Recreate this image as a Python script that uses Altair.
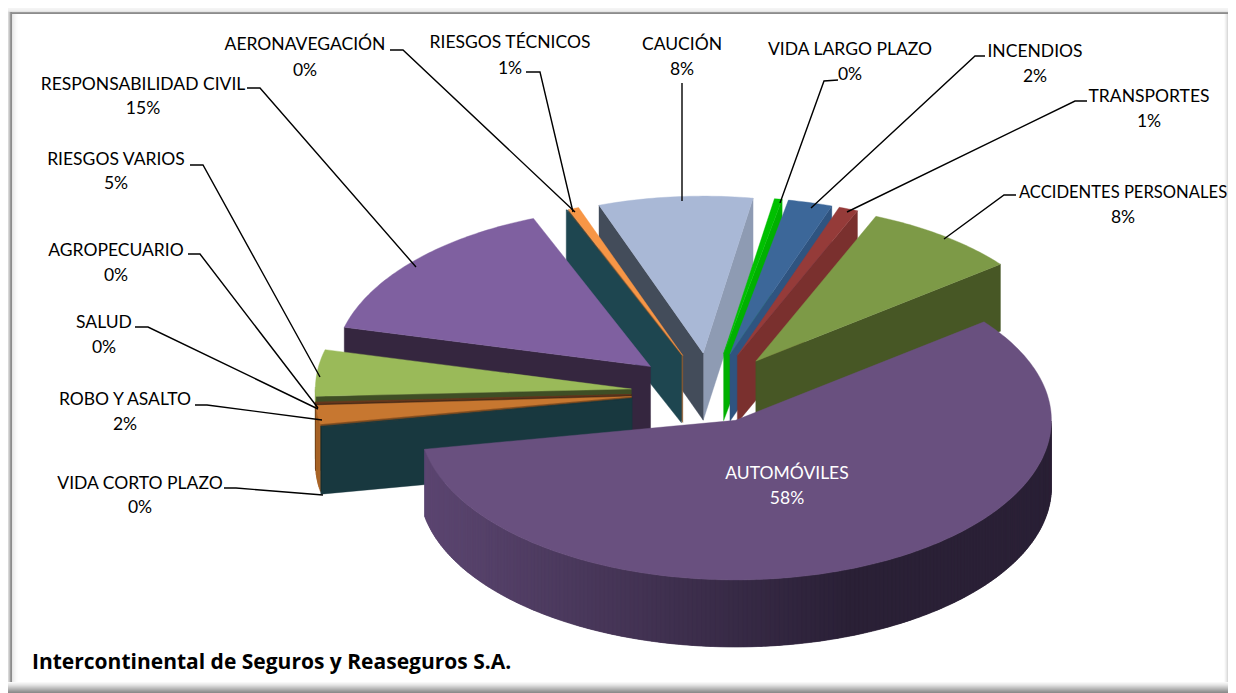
import math
import altair as alt
import pandas as pd

# ---- chart values (share of premiums, %), clockwise from the first slice
categories = ["VIDA LARGO PLAZO", "INCENDIOS", "TRANSPORTES", "ACCIDENTES PERSONALES",
              "AUTOMÓVILES", "VIDA CORTO PLAZO", "ROBO Y ASALTO", "SALUD", "AGROPECUARIO",
              "RIESGOS VARIOS", "RESPONSABILIDAD CIVIL", "AERONAVEGACIÓN",
              "RIESGOS TÉCNICOS", "CAUCIÓN"]
shares = [0.4, 2.3, 1.0, 8.1, 57.7, 0.1, 1.9, 0.05, 0.1, 4.7, 15.0, 0.05, 0.55, 8.0]
top_colors = ["#00C000", "#3C6799", "#953B39", "#7D9A47", "#69507F", "#18383F", "#C77730",
              "#6B3A1E", "#6B3A1E", "#9ABA59", "#7F60A0", "#1E4650", "#F79646", "#A9B8D6"]
start_wall = ["#00B000", "#2F5480", "#7A302E", "#475725", "#3F3050", "#18383F", "#7A4A20",
              "#4A2C18", "#4A2C18", "#3F4E25", "#35263F", "#1E4650", "#8A5A30", "#434C5A"]
end_wall = ["#00B000", "#2F5480", "#7A302E", "#475725", "#3F3050", "#18383F", "#7A4A20",
            "#4A2C18", "#4A2C18", "#3F4E25", "#35263F", "#1E4650", "#A06A38", "#8E9BB3"]
footer = "Intercontinental de Seguros y Reaseguros S.A."

# ---- layout of the drawing, page pixels
W, H = 1220, 685
CX, CY, R_FRONT, R_BACK, K, DEPTH, EXPLODE, START = 705.0, 393.0, 316.0, 311.0, 0.505, 67.0, 74.0, 9.4

label_pos = {  # centre x, name y, percent y
    "VIDA LARGO PLAZO": (850, 50, 75), "INCENDIOS": (1035, 52, 77), "TRANSPORTES": (1149, 97, 122),
    "ACCIDENTES PERSONALES": (1123, 193, 218), "AUTOMÓVILES": (787, 474, 499),
    "VIDA CORTO PLAZO": (140, 484, 508), "ROBO Y ASALTO": (125, 400, 425), "SALUD": (104, 323, 348),
    "AGROPECUARIO": (116, 251, 276), "RIESGOS VARIOS": (116, 160, 184),
    "RESPONSABILIDAD CIVIL": (143, 85, 109), "AERONAVEGACIÓN": (305, 45, 71),
    "RIESGOS TÉCNICOS": (510, 43, 69), "CAUCIÓN": (682, 45, 70)}
leaders = {
    "VIDA LARGO PLAZO": [(838, 80), (824, 81), (780, 203)],
    "INCENDIOS": [(985, 56), (975, 56), (811, 208)],
    "TRANSPORTES": [(1087, 101), (1075, 101), (847, 212)],
    "ACCIDENTES PERSONALES": [(1016, 195), (1004, 195), (944, 239)],
    "VIDA CORTO PLAZO": [(224, 488), (236, 488), (323, 495)],
    "ROBO Y ASALTO": [(195, 405), (207, 405), (322, 420)],
    "SALUD": [(135, 327), (148, 327), (318, 409)],
    "AGROPECUARIO": [(188, 254), (200, 254), (318, 408)],
    "RIESGOS VARIOS": [(190, 165), (203, 165), (320, 377)],
    "RESPONSABILIDAD CIVIL": [(247, 88), (260, 88), (416, 267)],
    "AERONAVEGACIÓN": [(390, 50), (403, 50), (575, 212)],
    "RIESGOS TÉCNICOS": [(526, 72), (540, 72), (573, 212)],
    "CAUCIÓN": [(682, 83), (682, 201)]}


def direction(deg):
    a = math.radians(deg)
    return math.sin(a), -K * math.cos(a)


def facing(deg):
    return -math.cos(math.radians(deg)) > 0


def feature(points, fill, order):
    ring = [list(p) for p in points] + [list(points[0])]
    return {"type": "Feature", "geometry": {"type": "Polygon", "coordinates": [ring]},
            "properties": {"fill": fill, "order": order}}


def mix(c1, c2, t):
    a = [int(c1[i:i + 2], 16) for i in (1, 3, 5)]
    b = [int(c2[i:i + 2], 16) for i in (1, 3, 5)]
    return "#%02x%02x%02x" % tuple(round(u + (v - u) * t) for u, v in zip(a, b))


def rim_color(x, base):
    if base != "#69507F":
        return mix(base, "#000000", 0.15)
    t = min(max((x - 423) / (850 - 423), 0), 1)
    return mix("#5C4671", "#2A2036", t)


slices = []
angle = START
for i, share in enumerate(shares):
    span = share * 3.6
    slices.append((i, angle, angle + span))
    angle += span

features = []
n = 0
for i, a0, a1 in sorted(slices, key=lambda s: math.cos(math.radians((s[1] + s[2]) / 2)), reverse=True):
    mid = (a0 + a1) / 2
    sx, cy = math.sin(math.radians(mid)), math.cos(math.radians(mid))
    ax = CX + EXPLODE * sx + 6 * max(0.0, math.cos(math.radians(mid - 30)))
    ay = CY - (40 if cy > 0 else 30) * cy
    radius = R_BACK if (mid % 360 < 60 or mid % 360 > 330) else R_FRONT
    steps = max(2, int((a1 - a0) * 1.2))
    arc = []
    for j in range(steps + 1):
        d = a0 + (a1 - a0) * j / steps
        dx, dy = direction(d)
        arc.append((ax + radius * dx, ay + radius * dy, d))
    parts = []
    if facing(a0 - 90):
        parts.append(((ax, ay), arc[0][:2], (arc[0][0], arc[0][1] + DEPTH), (ax, ay + DEPTH), start_wall[i], -math.cos(math.radians(a0 - 90))))
    if facing(a1 + 90):
        parts.append(((ax, ay), arc[-1][:2], (arc[-1][0], arc[-1][1] + DEPTH), (ax, ay + DEPTH), end_wall[i], -math.cos(math.radians(a1 + 90))))
    for p in sorted(parts, key=lambda q: q[5]):
        features.append(feature(p[:4], p[4], n))
        n += 1
    # outer rim, only where it faces the viewer; each piece runs under the next one to hide seams
    for j in range(steps):
        x0, y0, d0 = arc[j]
        x1, y1, d1 = arc[j + 1]
        if facing((d0 + d1) / 2):
            x2, y2, _ = arc[min(j + 2, steps)]
            col = rim_color((x0 + x1) / 2, top_colors[i])
            if x0 > x1:
                features.append(feature([(x0, y0), (x1, y1), (x2, y2), (x2, y2 + DEPTH), (x1, y1 + DEPTH), (x0, y0 + DEPTH)], col, n))
            else:
                features.append(feature([(x0, y0), (x1, y1), (x1, y1 + DEPTH), (x0, y0 + DEPTH)], col, n))
            n += 1
    features.append(feature([(ax, ay)] + [p[:2] for p in arc], top_colors[i], n))
    n += 1

x_scale = alt.Scale(domain=[8, 8 + W], range=[0, W], nice=False, zero=False)
y_scale = alt.Scale(domain=[8 + H, 8], range=[H, 0], nice=False, zero=False)
X = alt.X("x:Q", scale=x_scale, axis=None)
Y = alt.Y("y:Q", scale=y_scale, axis=None)

# frame bands: x, x2, y, y2, colour
R_EDGE = 8 + W
frame = [(8, R_EDGE, 8, 693, "#FFFFFF")]
for k, c in enumerate(["#F4F4F4", "#F2F2F2", "#EEEEEE", "#E4E4E4"]):
    frame.append((8, R_EDGE, 8 + k, 9 + k, c))
for k, c in enumerate(["#9A9A9A", "#8C8C8C"]):
    frame.append((8, R_EDGE, 12 + k, 13 + k, c))
for k, c in enumerate(["#D8D8D8", "#C4C4C4", "#9A9A9A", "#8C8C8C"]):
    frame.append((8 + k, 9 + k, 12, 693, c))
for k, c in enumerate(["#E6E6E6", "#EEEEEE", "#F3F3F3", "#F7F7F7", "#FBFBFB", "#FDFDFD"]):
    frame.append((12 + k, 13 + k, 14, 683, c))
for k, c in enumerate(["#FBFBFB", "#F2F2F2", "#E8E8E8", "#DADADA"]):
    frame.append((R_EDGE - 4 + k, R_EDGE - 3 + k, 14, 693, c))
for k, c in enumerate(["#F8F8F8", "#F0F0F0", "#E8E8E8", "#DEDEDE", "#D2D2D2", "#C6C6C6",
                       "#BABABA", "#AEAEAE", "#A2A2A2", "#969696", "#8C8C8C"]):
    frame.append((8, R_EDGE, 682 + k, 683 + k, c))
frame_df = pd.DataFrame(frame, columns=["x", "x2", "y", "y2", "c"])
frame_layer = alt.Chart(frame_df).mark_rect().encode(
    x=X, x2="x2:Q", y=Y, y2="y2:Q", color=alt.Color("c:N", scale=None))

pie_layer = alt.Chart(alt.InlineData(
    values={"type": "FeatureCollection", "features": features},
    format=alt.DataFormat(property="features", type="json"))
).mark_geoshape(strokeWidth=0.4).encode(
    color=alt.Color("properties.fill:N", scale=None),
    stroke=alt.Color("properties.fill:N", scale=None),
    order=alt.Order("properties.order:Q"),
).project(type="identity", scale=1, translate=[-8, -8])

leader_rows = []
for name, pts in leaders.items():
    for j, (px, py) in enumerate(pts):
        leader_rows.append({"name": name, "x": px, "y": py, "o": j})
leader_layer = alt.Chart(pd.DataFrame(leader_rows)).mark_line(color="#000000", strokeWidth=1.4).encode(
    x=X, y=Y, detail="name:N", order="o:Q")

text_rows = []
for name, share in zip(categories, shares):
    cx, y1, y2 = label_pos[name]
    col = "#FFFFFF" if name == "AUTOMÓVILES" else "#000000"
    fs = 16.6 if name == "ACCIDENTES PERSONALES" else 17.5
    text_rows.append({"x": cx, "y": y1, "t": name, "c": col, "fs": fs})
    text_rows.append({"x": cx, "y": y2, "t": f"{share:.0f}%" if share >= 0.5 else "0%", "c": col, "fs": 17.5})
text_layer = alt.Chart(pd.DataFrame(text_rows)).mark_text(
    font="Lato", align="center", baseline="middle").encode(
    x=X, y=Y, text="t:N", color=alt.Color("c:N", scale=None),
    size=alt.Size("fs:Q", scale=None))

foot_layer = alt.Chart(pd.DataFrame([{"x": 32, "y": 669, "t": footer}])).mark_text(
    font="Open Sans", fontSize=21, fontWeight="bold", align="left", baseline="alphabetic", color="#000000").encode(
    x=X, y=Y, text="t:N")

chart = alt.layer(
    frame_layer, pie_layer, leader_layer, text_layer, foot_layer
).properties(width=W, height=H, padding=0, autosize=alt.AutoSizeParams(type="none")
).configure_view(stroke=None)

chart.save("out.html", embed_options={"renderer": "svg", "actions": False})
